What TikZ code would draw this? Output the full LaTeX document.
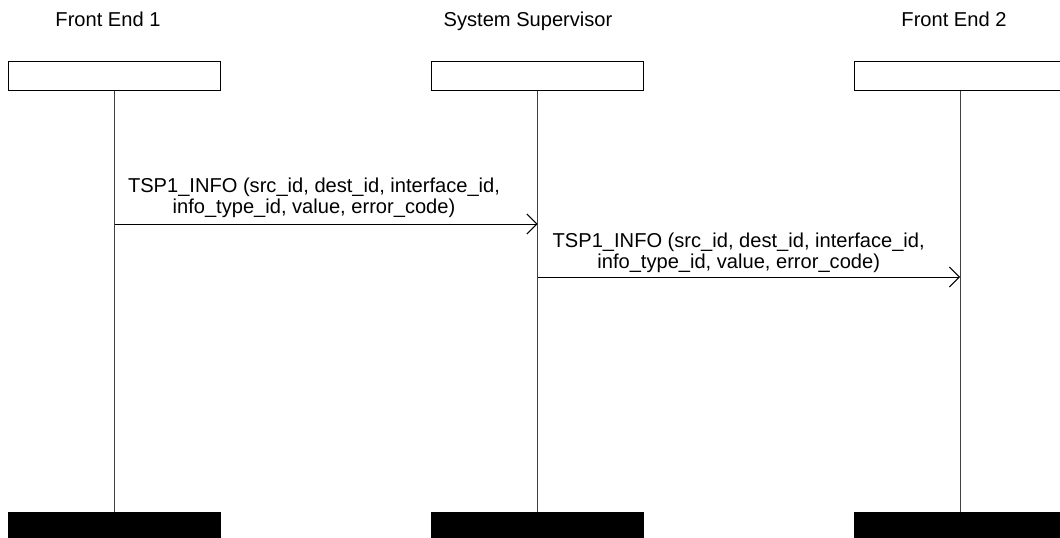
\documentclass[tikz,border=0pt]{standalone}
\usepackage{fontspec}
\setmainfont{Liberation Sans}
\usetikzlibrary{arrows.meta}
\begin{document}
\begin{tikzpicture}[x=1pt,y=-1pt,
  every node/.style={inner sep=0pt, outer sep=0pt},
  txt/.style={font=\fontsize{20.1}{21}\selectfont},
  title/.style={txt, anchor=base},
  head/.style={draw, line width=1pt, minimum width=212pt, minimum height=29pt},
  foot/.style={fill=black, minimum width=213pt, minimum height=26pt},
  lifeline/.style={line width=1pt, draw=black!75},
  msg/.style={line width=1pt, -{Straight Barb[length=10pt,width=20pt,line width=1pt]}},
  msgtext/.style={txt, align=center, anchor=base west}]
\useasboundingbox (0,0) rectangle (1060,538);
\clip (0,0) rectangle (1060,538);

% participants
\node[title] (t1) at (108,26.7) {Front End 1};
\node[title] (t2) at (528,26.7) {System Supervisor};
\node[title] (t3) at (954,26.7) {Front End 2};

\node[head] (h1) at (114.5,76) {};
\node[head] (h2) at (537.5,76) {};
\node[head] (h3) at (960,76) {};

\node[foot] (f1) at (114.5,525) {};
\node[foot] (f2) at (537.5,525) {};
\node[foot] (f3) at (960,525) {};

% lifelines
\draw[lifeline] (h1.south) -- (f1.north);
\draw[lifeline] (h2.south) -- (f2.north);
\draw[lifeline] (h3.south) -- (f3.north);

% messages
\coordinate (m1a) at (h1.south |- 0,224);
\coordinate (m1b) at (h2.south |- 0,224);
\coordinate (m2a) at (h2.south |- 0,277);
\coordinate (m2b) at (h3.south |- 0,277);

\draw[msg] (m1a) -- (m1b);
\draw[msg] (m2a) -- (m2b);

% the base anchor sits on the second line
\node[msgtext] (l1) at (128,213) {TSP1\_INFO (src\_id, dest\_id, interface\_id,\\info\_type\_id, value, error\_code)};
\node[msgtext] (l2) at (552.7,268) {TSP1\_INFO (src\_id, dest\_id, interface\_id,\\info\_type\_id, value, error\_code)};
\end{tikzpicture}
\end{document}
